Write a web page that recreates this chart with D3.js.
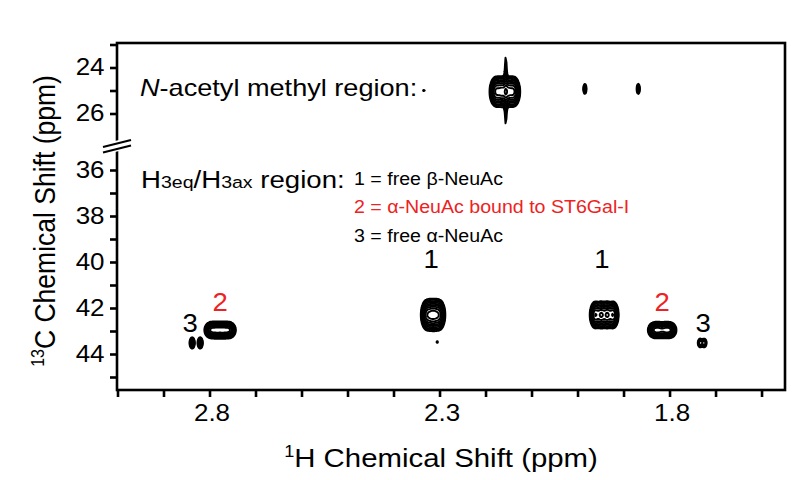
<!DOCTYPE html>
<html><head><meta charset="utf-8">
<script src="https://cdn.jsdelivr.net/npm/d3@7"></script>
<style>body{margin:0;background:#fff} svg{display:block} text{font-family:"Liberation Sans",Arial,sans-serif}</style>
</head><body><svg id="c" width="804" height="480"></svg>
<script>
// ---------- data ----------
const xTickValues = [3.0,2.9,2.8,2.7,2.6,2.5,2.4,2.3,2.2,2.1,2.0,1.9,1.8,1.7,1.6];
const xTickLabels = [2.8, 2.3, 1.8];
const yTopTickValues = [23,24,25,26];
const yTopTickLabels = [24,26];
const yBotTickValues = [36,37,38,39,40,41,42,43,44,45];
const yBotTickLabels = [36,38,40,42,44];

// cross peaks (1H ppm, 13C ppm), widths in ppm, multiplet line offsets in 1H ppm
const peakNames  = ["NAc main","NAc t1 streak","NAc minor a","NAc minor b","NAc speck","3 left","2 left","1 left","1 left speck","1 right","2 right","3 right"];
const peakH      = [2.158, 2.156, 1.984, 1.868, 2.334, 2.829, 2.777, 2.314, 2.305, 1.942, 1.816, 1.729];
const peakC      = [25.05, 25.0, 24.93, 24.93, 25.0, 43.52, 42.96, 42.3, 43.48, 42.3, 42.96, 43.52];
const peakAmp    = [1.0, 0.24, 0.3, 0.3, 0.15, 0.6, 1.0, 1.0, 0.15, 1.0, 0.9, 0.45];
const peakSigmaH = [0.0064, 0.0022, 0.0024, 0.0024, 0.002, 0.003, 0.0068, 0.0058, 0.002, 0.0055, 0.0065, 0.003];
const peakSigmaC = [0.30, 1.1, 0.15, 0.15, 0.04, 0.13, 0.165, 0.30, 0.04, 0.27, 0.16, 0.11];
const peakLines  = [
  [-0.0196,-0.0065,0.0065,0.0196],
  [0],[0],[0],[0],
  [-0.0087,0.0087],
  [-0.0196,-0.0065,0.0065,0.0196],
  [-0.0141,-0.0043,0.0043,0.0141],
  [0],
  [-0.0196,-0.0065,0.0065,0.0196],
  [-0.0174,-0.0065,0.0065,0.0174],
  [-0.0043,0.0043]
];
const contourLevels = [0.1, 0.15, 0.22, 0.32, 0.45, 0.6, 0.8, 1.05, 1.35, 1.7];

const peakLabelText  = ["3","2","1","1","2","3"];
const peakLabelH     = [2.842, 2.777, 2.318, 1.947, 1.816, 1.727];
const peakLabelC     = [43.04, 42.13, 40.26, 40.26, 42.13, 43.04];
const peakLabelColor = ["#000","#ee2222","#000","#000","#ee2222","#000"];

const legendLines  = ["1 = free β-NeuAc", "2 = α-NeuAc bound to ST6Gal-I", "3 = free α-NeuAc"];
const legendColors = ["#000", "#ee2222", "#000"];

// ---------- layout ----------
const L = 117, R = 785, T = 43, B = 390, breakY = 145.5;
const SX = 1.13; // horizontal text stretch of the original figure
const svg = d3.select("#c");
const x = d3.scaleLinear().domain([3.0, 1.549]).range([117.5, 785]);
const yTop = d3.scaleLinear().domain([23, 27.4]).range([44.5, 145.7]);
const yBot = d3.scaleLinear().domain([35, 45.6]).range([147, 390.8]);
const yInv = py => py < breakY ? yTop.invert(py) : yBot.invert(py);

// ---------- contour field ----------
const W = R - L, H = B - T;
const grid = new Float64Array(W * H);
const rowC = d3.range(H).map(j => yInv(T + j + 0.5));
const colH = d3.range(W).map(i => x.invert(L + i + 0.5));
peakH.forEach((h0, k) => {
  const sH = peakSigmaH[k], sC = peakSigmaC[k], a = peakAmp[k];
  peakLines[k].forEach(off => {
    const hc = h0 + off;
    for (let j = 0; j < H; j++) {
      const dc = (rowC[j] - peakC[k]) / sC;
      if (Math.abs(dc) > 4.5) continue;
      const ec = Math.exp(-0.5 * dc * dc);
      for (let i = 0; i < W; i++) {
        const dh = (colH[i] - hc) / sH;
        if (Math.abs(dh) > 4.5) continue;
        grid[j * W + i] += a * ec * Math.exp(-0.5 * dh * dh);
      }
    }
  });
});
const contours = d3.contours().size([W, H]).thresholds(contourLevels)(grid);
const proj = d3.geoTransform({ point: function(px, py) { this.stream.point(L + px, T + py); } });
const path = d3.geoPath(proj);
svg.append("g").selectAll("path").data(contours).join("path")
  .attr("d", path).attr("fill", "none").attr("stroke", "#000").attr("stroke-width", 1.9)
  .attr("stroke-linejoin", "round");

// ---------- axes ----------
const fmt = labels => d => labels.some(v => Math.abs(v - d) < 1e-6) ? d3.format(".1f")(d) : "";
const gx = svg.append("g").attr("transform", `translate(0,${B})`)
  .call(d3.axisBottom(x).tickValues(xTickValues).tickSize(7).tickPadding(8).tickFormat(fmt(xTickLabels)));
const gyT = svg.append("g").attr("transform", `translate(${L},0)`)
  .call(d3.axisLeft(yTop).tickValues(yTopTickValues).tickSize(7).tickPadding(4)
    .tickFormat(d => yTopTickLabels.includes(d) ? d : ""));
const gyB = svg.append("g").attr("transform", `translate(${L},0)`)
  .call(d3.axisLeft(yBot).tickValues(yBotTickValues).tickSize(7).tickPadding(4)
    .tickFormat(d => yBotTickLabels.includes(d) ? d : ""));
[gx, gyT, gyB].forEach(g => {
  g.select(".domain").remove();
  g.selectAll(".tick line").attr("stroke", "#000").attr("stroke-width", 2.6);
  g.selectAll(".tick text").attr("fill", "#000").style("font-size", "23px")
    .style("font-family", "'Liberation Sans', Arial, sans-serif")
    .attr("transform", `scale(${SX},1)`);
});
gx.selectAll(".tick text").attr("transform", `translate(2,0) scale(${SX},1)`);

// frame
svg.append("rect").attr("x", L).attr("y", T).attr("width", W).attr("height", H)
  .attr("fill", "none").attr("stroke", "#000").attr("stroke-width", 2.6);

// axis break
svg.append("path").attr("d", `M103,${breakY-1.5} L131,${breakY-8.5} L131,${breakY+2.5} L103,${breakY+9.5} Z`)
  .attr("fill", "#fff");
[0, 5.5].forEach(o => svg.append("line")
  .attr("x1", 103).attr("y1", breakY + 1.5 + o).attr("x2", 131).attr("y2", breakY - 5.5 + o)
  .attr("stroke", "#000").attr("stroke-width", 2.2));

// ---------- titles ----------
const xt = svg.append("text").attr("transform", `translate(441,467) scale(${SX},1)`)
  .attr("text-anchor", "middle").style("font-size", "26px");
xt.append("tspan").text("1").style("font-size", "16px").attr("dy", -10);
xt.append("tspan").text("H Chemical Shift (ppm)").attr("dy", 10);

const yt = svg.append("text").attr("transform", `translate(55,221) scale(${SX},1) rotate(-90)`)
  .attr("text-anchor", "middle").style("font-size", "26.5px");
yt.append("tspan").text("13").style("font-size", "16px").attr("dy", -10);
yt.append("tspan").text("C Chemical Shift (ppm)").attr("dy", 10);

// ---------- annotations ----------
const t1 = svg.append("text").attr("transform", `translate(140,96) scale(${SX},1)`).style("font-size", "24px");
t1.append("tspan").text("N").style("font-style", "italic");
t1.append("tspan").text("-acetyl methyl region:");

const t2 = svg.append("text").attr("transform", `translate(141,187.5) scale(1.15,1)`).style("font-size", "24px");
t2.append("tspan").text("H");
t2.append("tspan").text("3eq").style("font-size", "17px");
t2.append("tspan").text("/H");
t2.append("tspan").text("3ax").style("font-size", "17px");
t2.append("tspan").text(" region:");

svg.append("g").selectAll("text").data(legendLines).join("text")
  .attr("transform", (d, i) => `translate(354,${184.5 + i * 28.5}) scale(1.12,1)`)
  .attr("fill", (d, i) => legendColors[i]).style("font-size", "17.5px").text(d => d);

svg.append("g").selectAll("text").data(peakLabelText).join("text")
  .attr("transform", (d, i) => `translate(${x(peakLabelH[i])},${yBot(peakLabelC[i])}) scale(1.1,1)`)
  .attr("text-anchor", "middle").attr("fill", (d, i) => peakLabelColor[i])
  .style("font-size", "25px").text(d => d);
</script></body></html>
